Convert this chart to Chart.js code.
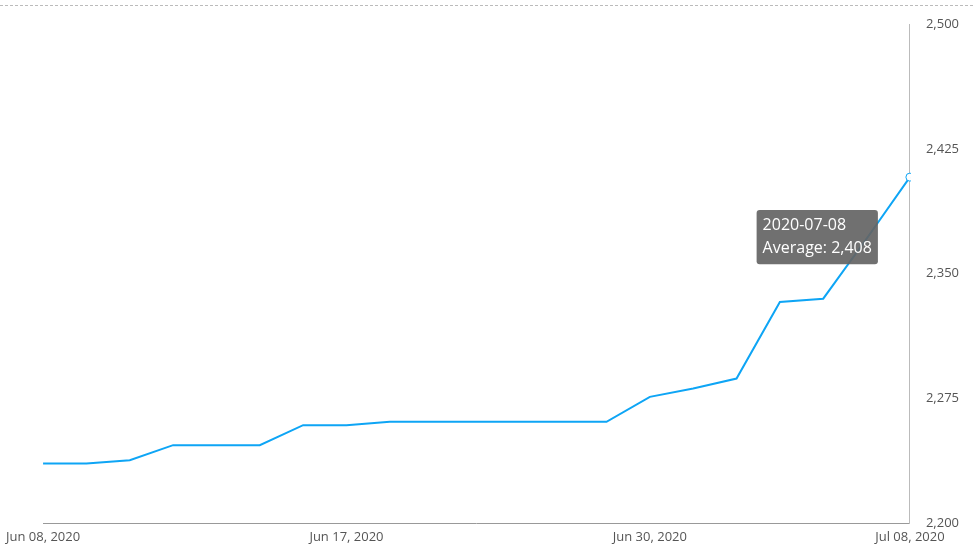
<!DOCTYPE html>
<html><head><meta charset="utf-8">
<script src="https://cdn.jsdelivr.net/npm/chart.js@4/dist/chart.umd.min.js"></script>
<style>html,body{margin:0;padding:0;background:#fff}#w{width:973px;height:555px}</style>
</head><body><div id="w"><canvas id="c"></canvas></div>
<script>
const dates = ["2020-06-08","2020-06-09","2020-06-10","2020-06-11","2020-06-12","2020-06-15","2020-06-16","2020-06-17","2020-06-18","2020-06-19","2020-06-22","2020-06-23","2020-06-24","2020-06-25","2020-06-30","2020-07-01","2020-07-02","2020-07-03","2020-07-06","2020-07-07","2020-07-08"];
const tickLabels = {0:"Jun 08, 2020",7:"Jun 17, 2020",14:"Jun 30, 2020",20:"Jul 08, 2020"};
const averages = [2236,2236,2238,2247,2247,2247,2259,2259,2261,2261,2261,2261,2261,2261,2276,2281,2287,2333,2335,2371,2408];
const yTicks = [2200,2275,2350,2425,2500];

Chart.Tooltip.positioners.fixedLeft = function(items){
  if(!items.length) return false;
  const el = items[0].element;
  return {x: el.x - 30, y: el.y + 60};
};
const topLine = {id:'topLine', beforeDraw(c){const x=c.ctx;x.save();x.strokeStyle='#bbb';x.setLineDash([3,2]);x.lineWidth=1;x.beginPath();x.moveTo(0,5.5);x.lineTo(973,5.5);x.stroke();x.restore();}};
const fmt = v => v.toLocaleString('en-US');
const ch = new Chart(document.getElementById('c'), {
  type:'line',
  data:{labels:dates, datasets:[{label:'Average', data:averages, borderColor:'#0ea5f5', borderWidth:2, tension:0,
    pointRadius:0, pointHoverRadius:4, pointHoverBackgroundColor:'#fff', pointHoverBorderColor:'#0ea5f5', pointHoverBorderWidth:1}]},
  options:{responsive:true, maintainAspectRatio:false, animation:false,
    layout:{padding:{top:24,left:14,right:6,bottom:4}},
    events:[],
    plugins:{legend:{display:false},
      tooltip:{position:'fixedLeft', xAlign:'right', yAlign:'center', backgroundColor:'rgba(100,100,100,0.92)', displayColors:false,
        titleFont:{family:'Open Sans',size:16,weight:'normal'}, bodyFont:{family:'Open Sans',size:16}, titleMarginBottom:4, padding:6, cornerRadius:3, caretSize:0,
        callbacks:{title:it=>it[0].label, label:it=>'Average: '+fmt(it.raw)}}},
    scales:{
      x:{type:'category', offset:false, grid:{display:false, drawTicks:false}, border:{color:'#999'},
        ticks:{autoSkip:false, maxRotation:0, padding:6, color:'#555', font:{family:'Open Sans',size:13},
          callback:(v,i)=>tickLabels[i]||''}},
      y:{position:'right', min:2200, max:2500, afterBuildTicks:a=>{a.ticks=yTicks.map(v=>({value:v}));},
        grid:{display:false}, border:{color:'#bbb'},
        ticks:{color:'#555', padding:8, font:{family:'Open Sans',size:13}, callback:v=>fmt(v)}}
    }},
  plugins:[topLine]
});
ch.setActiveElements([{datasetIndex:0,index:20}]);
ch.tooltip.setActiveElements([{datasetIndex:0,index:20}],{x:0,y:0});
ch.update();
</script></body></html>
